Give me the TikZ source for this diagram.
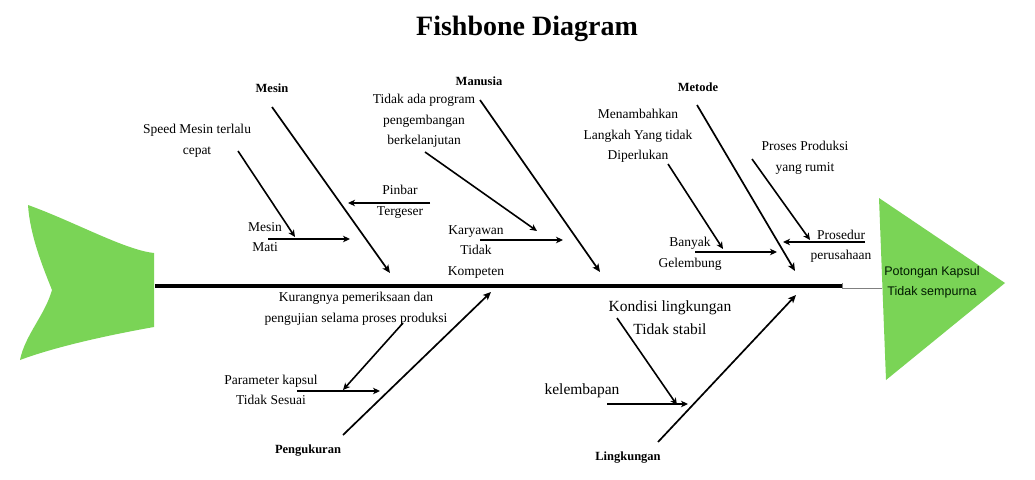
\documentclass[tikz,border=0pt]{standalone}
\usepackage{fontspec}
\setmainfont{Liberation Serif}
\newfontfamily\headsans{Liberation Sans}
\usetikzlibrary{arrows.meta}
\definecolor{fishgreen}{RGB}{122,212,86}
\tikzset{
  cause/.style={font=\fontsize{13.5}{20.5}\selectfont, align=center, inner sep=0pt},
  bigcause/.style={font=\fontsize{15.5}{23}\selectfont, align=center, inner sep=0pt},
  category/.style={font=\bfseries\fontsize{12.5}{15}\selectfont, inner sep=0pt},
  bone/.style={line width=1.7pt, -{Stealth[length=8pt,width=7pt,inset=2pt]}},
  twig/.style={line width=1.6pt, -{Stealth[length=7pt,width=6.5pt,inset=2pt]}},
}
\begin{document}
\begin{tikzpicture}[x=1pt,y=-1pt]
\useasboundingbox (0,0) rectangle (1035,479);
\fill[white] (0,0) rectangle (1035,479);

% title
\node[font=\bfseries\fontsize{28}{32}\selectfont, inner sep=0pt] (title) at (527,29) {Fishbone Diagram};

% tail
\fill[fishgreen] (28,205) .. controls (75,222) and (125,250) .. (154,253)
  -- (154,327) .. controls (120,333) and (60,345) .. (20,360)
  .. controls (25,335) and (45,315) .. (52,290)
  .. controls (42,265) and (30,235) .. (28,205) -- cycle;

% head
\fill[fishgreen] (879,198) -- (1005,283) -- (886,380) -- cycle;
\node[font=\headsans\fontsize{12.5}{20}\selectfont, align=center, inner sep=0pt, text=black!90!green] (effect) at (932,282) {Potongan Kapsul\\Tidak sempurna};

% spine
\coordinate (tailend) at (155,286);
\coordinate (spinemid) at (842,286);
\coordinate (headjoin) at (882,288);
\draw[line width=4.5pt] (tailend) -- (spinemid);
\draw[gray, line width=0.8pt] (842,283) -- ([yshift=0pt]842,288) -- (headjoin);

% categories
\node[category] (mesin) at (272,88) {Mesin};
\node[category] (manusia) at (479,81) {Manusia};
\node[category] (metode) at (698,87) {Metode};
\node[category] (pengukuran) at (308,451) {Pengukuran};
\node[category] (lingkungan) at (628,458) {Lingkungan};

% cause texts
\node[cause] (speed) at (197,141) {Speed Mesin terlalu\\cepat};
\node[cause] (mati) at (265,237) {Mesin\\Mati};
\node[cause] (pinbar) at (400,202) {Pinbar\\Tergeser};
\node[cause] (program) at (424,121) {Tidak ada program\\pengembangan\\berkelanjutan};
\node[cause] (karyawan) at (476,252) {Karyawan\\Tidak\\Kompeten};
\node[cause] (langkah) at (638,136) {Menambahkan\\Langkah Yang tidak\\Diperlukan};
\node[cause] (proses) at (805,158) {Proses Produksi\\yang rumit};
\node[cause] (prosedur) at (841,246) {Prosedur\\perusahaan};
\node[cause] (gelembung) at (690,254) {Banyak\\Gelembung};
\node[cause] (periksa) at (356,309) {Kurangnya pemeriksaan dan\\pengujian selama proses produksi};
\node[cause] (parameter) at (271,390) {Parameter kapsul\\Tidak Sesuai};
\node[bigcause] (kondisi) at (670,318) {Kondisi lingkungan\\Tidak stabil};
\node[bigcause] (kelembapan) at (582,391) {kelembapan};

% bone ends
\coordinate (mesinS) at (272,107);   \coordinate (mesinT) at (390,273);
\coordinate (manusiaS) at (480,100); \coordinate (manusiaT) at (600,272);
\coordinate (metodeS) at (697,105);  \coordinate (metodeT) at (795,271);
\coordinate (ukurS) at (343,435);    \coordinate (ukurT) at (491,292);
\coordinate (lingS) at (658,442);    \coordinate (lingT) at (796,295);

% main bones
\draw[bone] (mesinS) -- (mesinT);
\draw[bone] (manusiaS) -- (manusiaT);
\draw[bone] (metodeS) -- (metodeT);
\draw[bone] (ukurS) -- (ukurT);
\draw[bone] (lingS) -- (lingT);

% twig ends
\coordinate (speedS) at (238,151);   \coordinate (speedT) at (295,237);
\coordinate (matiS) at (268,239);    \coordinate (matiT) at (350,239);
\coordinate (pinbarS) at (430,203);  \coordinate (pinbarT) at (348,203);
\coordinate (progS) at (425,152);    \coordinate (progT) at (537,231);
\coordinate (karyS) at (480,240);    \coordinate (karyT) at (563,240);
\coordinate (langS) at (668,164);    \coordinate (langT) at (723,249);
\coordinate (prosesS) at (752,159);  \coordinate (prosesT) at (810,240);
\coordinate (prosedurS) at (865,242);\coordinate (prosedurT) at (783,242);
\coordinate (gelS) at (695,252);     \coordinate (gelT) at (777,252);
\coordinate (periksaS) at (403,323); \coordinate (periksaT) at (343,390);
\coordinate (paramS) at (297,391);   \coordinate (paramT) at (380,391);
\coordinate (kondisiS) at (617,318); \coordinate (kondisiT) at (677,405);
\coordinate (lembapS) at (607,404);  \coordinate (lembapT) at (688,404);

% twigs
\draw[twig] (speedS) -- (speedT);
\draw[twig] (matiS) -- (matiT);
\draw[twig] (pinbarS) -- (pinbarT);
\draw[twig] (progS) -- (progT);
\draw[twig] (karyS) -- (karyT);
\draw[twig] (langS) -- (langT);
\draw[twig] (prosesS) -- (prosesT);
\draw[twig] (prosedurS) -- (prosedurT);
\draw[twig] (gelS) -- (gelT);
\draw[twig] (periksaS) -- (periksaT);
\draw[twig] (paramS) -- (paramT);
\draw[twig] (kondisiS) -- (kondisiT);
\draw[twig] (lembapS) -- (lembapT);
\end{tikzpicture}
\end{document}
